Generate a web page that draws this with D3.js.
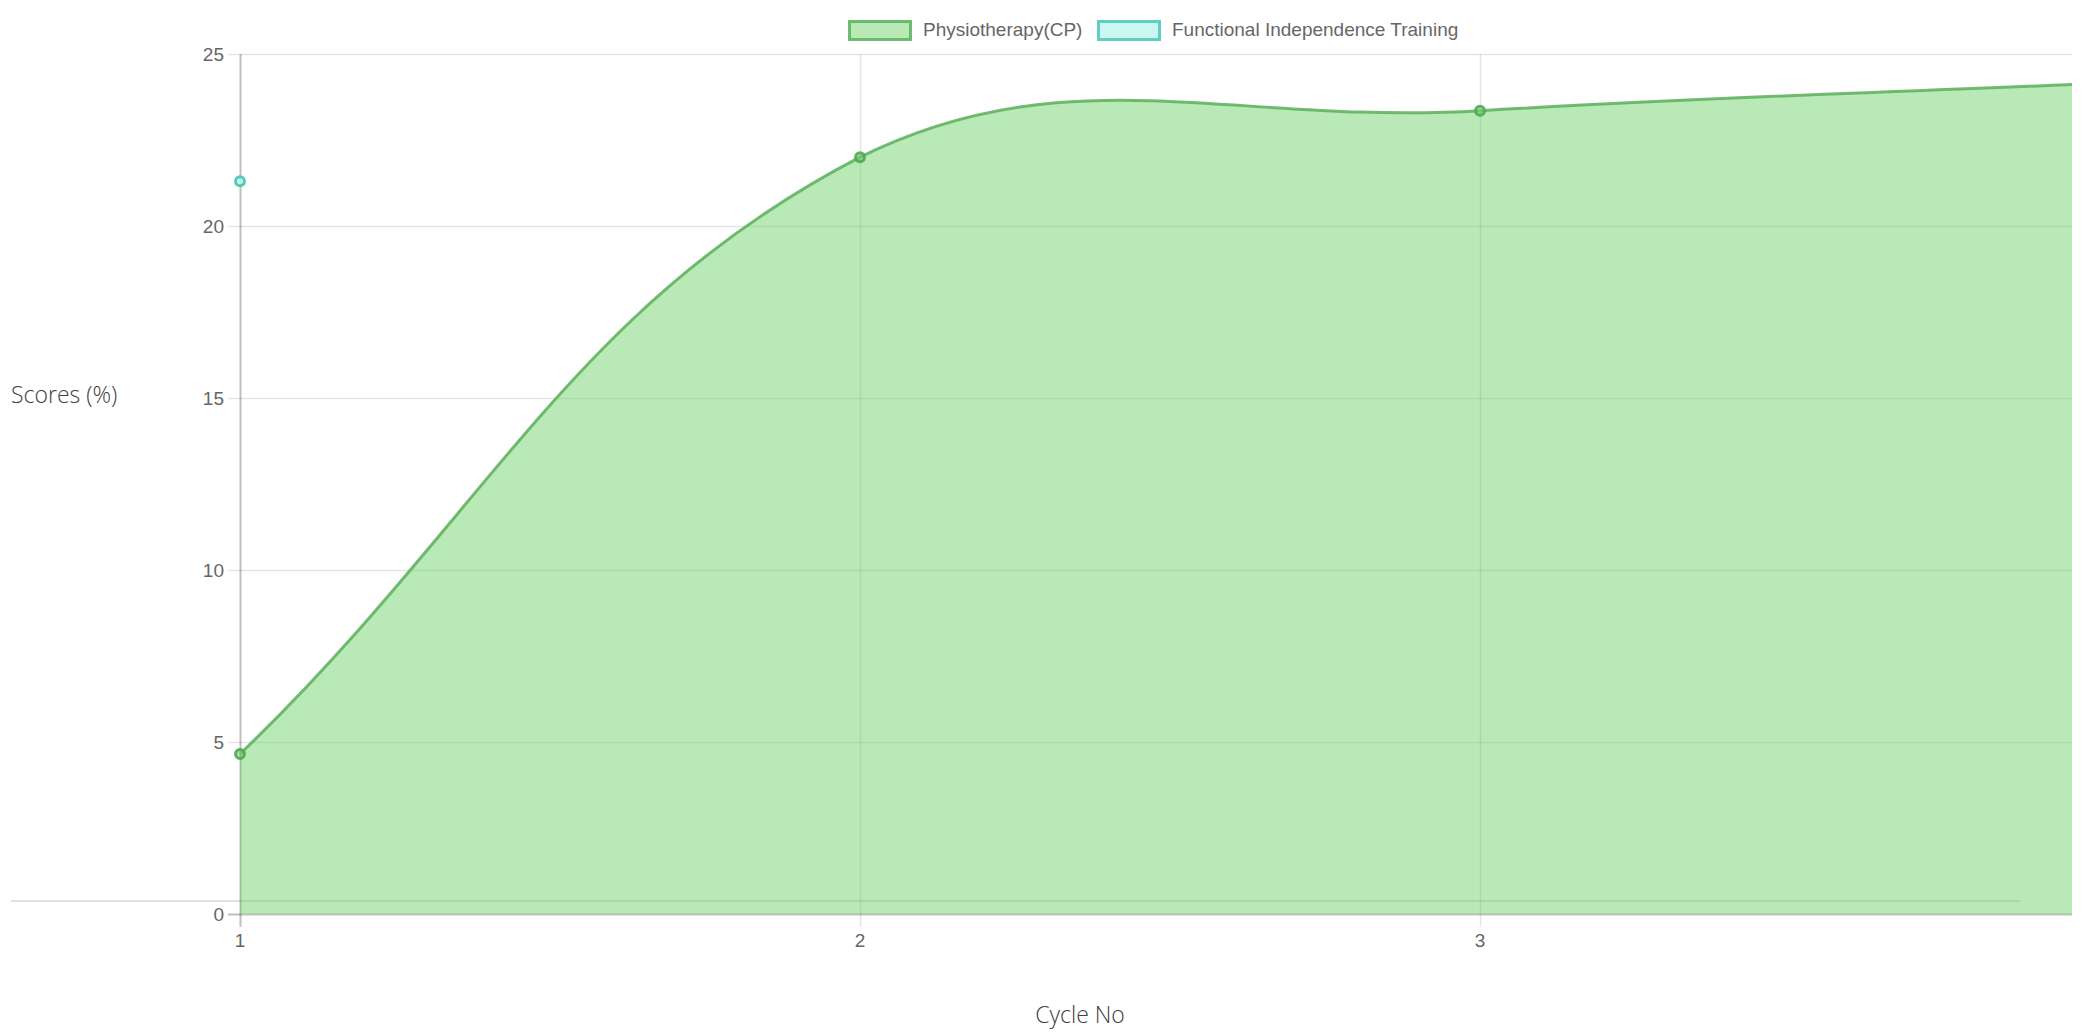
<!DOCTYPE html>
<html>
<head>
<meta charset="utf-8">
<script src="https://cdn.jsdelivr.net/npm/d3@7"></script>
<style>
  body { margin: 0; background: #fff; overflow: hidden; }
  svg { display: block; }
  .tick-label { font-family: "Liberation Sans", Arial, sans-serif; font-size: 19px; fill: #666; }
  .legend-label { font-family: "Liberation Sans", Arial, sans-serif; font-size: 19px; fill: #666; }
  .axis-title { font-family: "Open Sans", "Noto Sans", sans-serif; font-weight: 300; font-size: 23px; fill: #404040; }
</style>
</head>
<body>
<svg id="chart" width="2082" height="1032"></svg>
<script>
(function () {
  'use strict';

  // data
  var cycles = ["1", "2", "3", "4"];
  var physioScores = [4.65, 22.0, 23.35, 24.15];
  var fitScores = [21.3];
  var yTicks = [0, 5, 10, 15, 20, 25];
  var seriesNames = ["Physiotherapy(CP)", "Functional Independence Training"];

  var svg = d3.select("#chart"),
      left = 240, right = 2100, top = 54, bottom = 914,
      clipRight = 2072;

  var x = d3.scalePoint().domain(cycles).range([left, right]);
  var y = d3.scaleLinear().domain([0, 25]).range([bottom, top]);

  svg.append("clipPath").attr("id", "plot-clip")
    .append("rect")
      .attr("x", left - 12).attr("y", 0)
      .attr("width", clipRight - left + 12).attr("height", bottom + 20);

  // page rule behind the canvas
  svg.append("rect")
      .attr("x", 11).attr("y", 900)
      .attr("width", 2009).attr("height", 2)
      .attr("fill", "#e2e2e2");

  var grid = svg.append("g").attr("clip-path", "url(#plot-clip)");

  // horizontal grid lines with tick marks
  grid.selectAll(".hgrid")
    .data(yTicks)
    .enter().append("line")
      .attr("x1", left - 12).attr("x2", clipRight)
      .attr("y1", function(d) { return y(d) + 0.5; })
      .attr("y2", function(d) { return y(d) + 0.5; })
      .attr("stroke", function(d) { return d === 0 ? "rgba(0,0,0,0.25)" : "rgba(0,0,0,0.1)"; })
      .attr("stroke-width", function(d) { return d === 0 ? 2 : 1.5; });

  // vertical grid lines with tick marks
  grid.selectAll(".vgrid")
    .data(cycles)
    .enter().append("line")
      .attr("x1", function(d) { return x(d) + 0.5; })
      .attr("x2", function(d) { return x(d) + 0.5; })
      .attr("y1", top).attr("y2", bottom + 13)
      .attr("stroke", function(d, i) { return i === 0 ? "rgba(0,0,0,0.25)" : "rgba(0,0,0,0.1)"; })
      .attr("stroke-width", function(d, i) { return i === 0 ? 2 : 1.5; });

  svg.selectAll(".ylabel")
    .data(yTicks)
    .enter().append("text")
      .attr("class", "tick-label")
      .attr("x", left - 16)
      .attr("y", function(d) { return y(d); })
      .attr("dy", "0.35em")
      .attr("text-anchor", "end")
      .text(function(d) { return d; });

  svg.selectAll(".xlabel")
    .data(cycles.filter(function(d) { return x(d) < clipRight; }))
    .enter().append("text")
      .attr("class", "tick-label")
      .attr("x", function(d) { return x(d); })
      .attr("y", 940)
      .attr("dy", "0.35em")
      .attr("text-anchor", "middle")
      .text(function(d) { return d; });

  // spline like the one used by the source chart (tension 0.4, capped to area)
  function splinePath(pts, tension, closeTo) {
    var cps = pts.map(function(p, i) {
      var prev = pts[i - 1] || p, next = pts[i + 1] || p;
      var d01 = Math.hypot(p[0] - prev[0], p[1] - prev[1]),
          d12 = Math.hypot(next[0] - p[0], next[1] - p[1]),
          s01 = d01 / (d01 + d12 || 1), s12 = d12 / (d01 + d12 || 1),
          fa = tension * s01, fb = tension * s12;
      var cap = function(c) {
        return [Math.max(left, Math.min(right, c[0])), Math.max(top, Math.min(bottom, c[1]))];
      };
      return {
        prev: cap([p[0] - fa * (next[0] - prev[0]), p[1] - fa * (next[1] - prev[1])]),
        next: cap([p[0] + fb * (next[0] - prev[0]), p[1] + fb * (next[1] - prev[1])])
      };
    });
    var path = d3.path();
    path.moveTo(pts[0][0], pts[0][1]);
    for (var i = 1; i < pts.length; i++) {
      path.bezierCurveTo(cps[i - 1].next[0], cps[i - 1].next[1], cps[i].prev[0], cps[i].prev[1], pts[i][0], pts[i][1]);
    }
    if (closeTo !== undefined) {
      path.lineTo(pts[pts.length - 1][0], closeTo);
      path.lineTo(pts[0][0], closeTo);
      path.closePath();
    }
    return path.toString();
  }

  var physioPts = physioScores.map(function(v, i) { return [x(cycles[i]), y(v)]; });

  var plot = svg.append("g").attr("clip-path", "url(#plot-clip)");

  plot.append("path")
      .attr("d", splinePath(physioPts, 0.4, y(0)))
      .attr("fill", "rgba(100,206,95,0.45)");

  plot.append("path")
      .attr("d", splinePath(physioPts, 0.4))
      .attr("fill", "none")
      .attr("stroke", "rgba(90,175,90,0.85)")
      .attr("stroke-width", 3);

  plot.selectAll(".pt")
    .data(physioScores)
    .enter().append("circle")
      .attr("cx", function(d, i) { return x(cycles[i]); })
      .attr("cy", function(d) { return y(d); })
      .attr("r", 4.5)
      .attr("fill", "rgba(120,200,115,0.6)")
      .attr("stroke", "rgba(80,170,80,0.9)")
      .attr("stroke-width", 3);

  plot.selectAll(".fit")
    .data(fitScores)
    .enter().append("circle")
      .attr("cx", function(d, i) { return x(cycles[i]); })
      .attr("cy", function(d) { return y(d); })
      .attr("r", 4.5)
      .attr("fill", "rgba(190,245,238,0.8)")
      .attr("stroke", "#55c9bc")
      .attr("stroke-width", 3);

  // legend
  var legendX = [848, 1097],
      legendFill = ["rgba(100,206,95,0.45)", "rgba(140,235,225,0.45)"],
      legendStroke = ["rgba(90,175,90,0.85)", "#60cfc2"];

  var legend = svg.selectAll(".legend")
    .data(seriesNames)
    .enter().append("g")
      .attr("transform", function(d, i) { return "translate(" + legendX[i] + ",20)"; });

  legend.append("rect")
      .attr("x", 1.5).attr("y", 1.5)
      .attr("width", 61).attr("height", 18)
      .attr("fill", function(d, i) { return legendFill[i]; })
      .attr("stroke", function(d, i) { return legendStroke[i]; })
      .attr("stroke-width", 3);

  legend.append("text")
      .attr("class", "legend-label")
      .attr("x", 75).attr("y", 9)
      .attr("dy", "0.35em")
      .text(function(d) { return d; });

  svg.append("text")
      .attr("class", "axis-title")
      .attr("x", 11).attr("y", 395)
      .attr("dy", "0.35em")
      .text("Scores (%)");

  svg.append("text")
      .attr("class", "axis-title")
      .attr("x", 1080).attr("y", 1015)
      .attr("dy", "0.35em")
      .attr("text-anchor", "middle")
      .text("Cycle No");
}());
</script>
</body>
</html>
